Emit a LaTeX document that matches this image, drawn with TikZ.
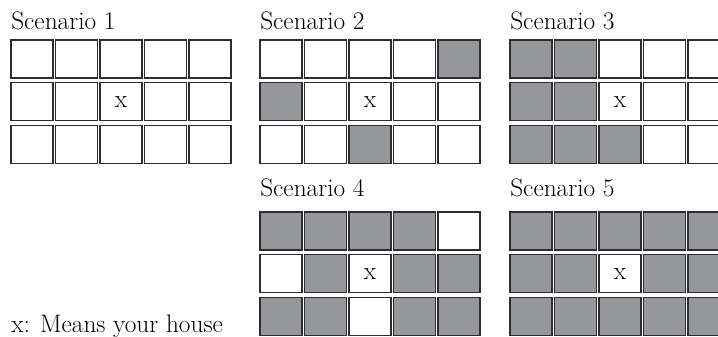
\documentclass[tikz,border=0pt]{standalone}
\usepackage{tikz}
\usetikzlibrary{positioning}
\definecolor{lotgray}{RGB}{150,151,155}
\definecolor{lotline}{RGB}{45,45,45}
\tikzset{
  cell/.style={rectangle,draw=lotline,line width=0.9pt,minimum width=31.5pt,minimum height=28.5pt,inner sep=0pt},
  c0/.style={cell,fill=white},
  c1/.style={cell,fill=lotgray},
  c2/.style={cell,fill=white},
  titel/.style={anchor=base west,inner sep=0pt},
}
% one 3x5 grid: name, left, top, rows (0 free, 1 built, 2 your house)
\newcommand{\scengrid}[4]{%
  \foreach \row [count=\r from 0] in {#4} {
    \foreach \v [count=\c from 0] in \row {
      \node[c\v] (#1-\r-\c) at ({#2+21+44.5*\c},{#3+19+42.6*\r}) {\ifnum\v=2 x\fi};
    }
  }%
}

\begin{document}
\begin{tikzpicture}[x=0.75pt,y=-0.75pt,font=\fontsize{19}{22}\selectfont]
  \clip (0,0) rectangle (718,336);
  % scenario 1
  \node[titel] (t1) at (11,29.5) {Scenario 1};
  \scengrid{s1}{11}{40}{{0,0,0,0,0},{0,0,2,0,0},{0,0,0,0,0}}
  % scenario 2
  \node[titel] (t2) at (260,29.5) {Scenario 2};
  \scengrid{s2}{260}{40}{{0,0,0,0,1},{1,0,2,0,0},{0,0,1,0,0}}
  % scenario 3
  \node[titel] (t3) at (510,29.5) {Scenario 3};
  \scengrid{s3}{510}{40}{{1,1,0,0,0},{1,1,2,0,0},{1,1,1,0,0}}
  % scenario 4
  \node[titel] (t4) at (260,196) {Scenario 4};
  \scengrid{s4}{260}{212}{{1,1,1,1,0},{0,1,2,1,1},{1,1,0,1,1}}
  % scenario 5
  \node[titel] (t5) at (510,196) {Scenario 5};
  \scengrid{s5}{510}{212}{{1,1,1,1,1},{1,1,2,1,1},{1,1,1,1,1}}
  % legend
  \node[titel] (legend) at (11,332) {x: Means your house};
\end{tikzpicture}
\end{document}
